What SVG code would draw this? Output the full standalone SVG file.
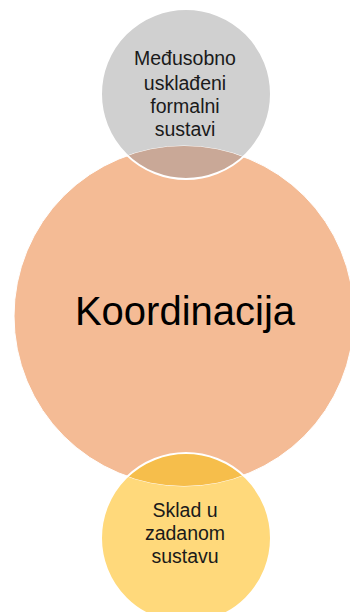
<svg xmlns="http://www.w3.org/2000/svg" width="350" height="612" viewBox="0 0 350 612">
  <style>
    .lbl { font-family: "Liberation Sans", Arial, sans-serif; fill: #1a1a1a; text-anchor: middle; }
    .small { font-size: 19.5px; }
    .big { font-size: 40px; fill: #000; }
    .ring { fill: none; stroke: #ffffff; stroke-width: 2; }
  </style>
  <defs>
    <clipPath id="clipGray"><circle cx="186" cy="94" r="85"/></clipPath>
    <clipPath id="clipYellow"><circle cx="186" cy="538" r="85"/></clipPath>
  </defs>
  <rect width="350" height="612" fill="#ffffff"/>
  <g id="node-gray">
    <circle cx="186" cy="94" r="85" fill="#D0D0D0"/>
  </g>
  <g id="node-yellow">
    <circle cx="186" cy="538" r="85" fill="#FFD97B"/>
  </g>
  <g id="node-koordinacija">
    <circle cx="184" cy="316" r="170" fill="#F4BB95" stroke="#ffffff" stroke-width="1"/>
    <text class="lbl big" x="185" y="325">Koordinacija</text>
  </g>
  <g id="overlaps">
    <circle cx="184" cy="316" r="170" fill="#C9A897" clip-path="url(#clipGray)"/>
    <circle cx="184" cy="316" r="170" fill="#F6BE4B" clip-path="url(#clipYellow)"/>
    <circle class="ring" cx="186" cy="94" r="85"/>
    <circle class="ring" cx="186" cy="538" r="85"/>
  </g>
  <g id="label-gray">
    <text class="lbl small" x="185" y="65">Međusobno</text>
    <text class="lbl small" x="185" y="90">usklađeni</text>
    <text class="lbl small" x="185" y="113">formalni</text>
    <text class="lbl small" x="185" y="136">sustavi</text>
  </g>
  <g id="label-yellow">
    <text class="lbl small" x="185" y="517">Sklad u</text>
    <text class="lbl small" x="185" y="540">zadanom</text>
    <text class="lbl small" x="185" y="563">sustavu</text>
  </g>
  <g id="connectors"/>
</svg>
